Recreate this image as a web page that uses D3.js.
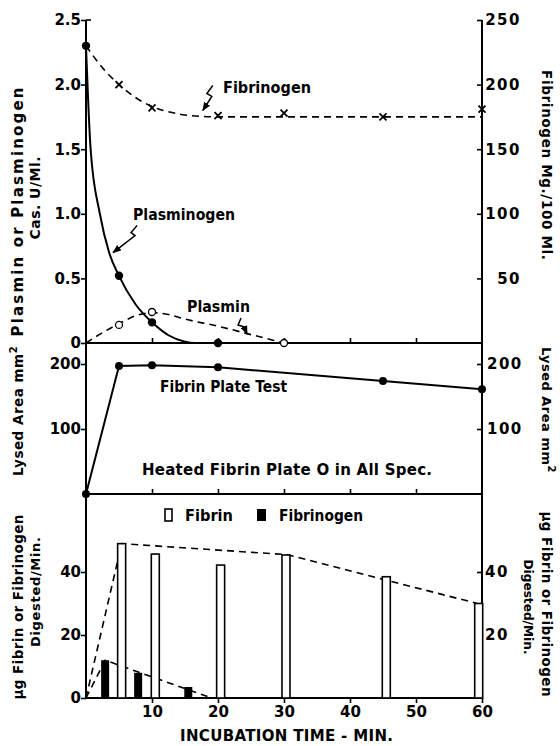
<!DOCTYPE html>
<html>
<head>
<meta charset="utf-8">
<script src="https://cdn.jsdelivr.net/npm/d3@7"></script>
<style>
  body { margin: 0; background: #fff; }
  svg { display: block; font-family: "DejaVu Sans", sans-serif; font-weight: bold; }
</style>
</head>
<body>
<script>
// chart size
const width = 560;
const height = 746;

// top panel: plasminogen and plasmin (Cas. U/ml), fibrinogen (mg/100 ml)
const plasminogenTimes = [0, 5, 10, 20];
const plasminogenValues = [2.3, 0.52, 0.16, 0];
const plasminogenCurveTimes = [0, 0.7, 2.1, 3.5, 5, 7.5, 10, 12.5, 15, 16.5, 20];
const plasminogenCurveValues = [2.3, 1.5, 1.0, 0.7, 0.52, 0.3, 0.16, 0.06, 0.01, 0, 0];

const plasminTimes = [5, 10, 30];
const plasminValues = [0.14, 0.24, 0];
const plasminCurveTimes = [0, 2.5, 5, 7.5, 10, 12.5, 15, 20, 25, 30];
const plasminCurveValues = [0, 0.08, 0.15, 0.21, 0.235, 0.22, 0.185, 0.13, 0.065, 0];

const fibrinogenTimes = [5, 10, 20, 30, 45, 60];
const fibrinogenValues = [200, 182, 176, 178, 175, 181];
const fibrinogenCurveTimes = [0, 2.5, 5, 7.5, 10, 12.5, 15, 20, 60];
const fibrinogenCurveValues = [230, 213, 200, 190, 183, 179, 176.5, 175, 175];

// middle panel: fibrin plate test, lysed area mm2
const plateTimes = [0, 5, 10, 20, 45, 60];
const plateValues = [0, 197, 198, 195, 174, 161];

// bottom panel: ug digested per min
const fibrinBarTimes = [5.4, 10.5, 20.4, 30.3, 45.5, 59.5];
const fibrinBarValues = [49, 45.7, 42.2, 45.4, 38.5, 30];
const fibrinogenBarTimes = [2.9, 7.9, 15.5];
const fibrinogenBarValues = [12, 8, 3.5];
const fibrinEnvTimes = [0, 5.4, 30.5, 59.3];
const fibrinEnvValues = [0, 49, 45.5, 30];
const fibrinogenEnvTimes = [0, 2.9, 19];
const fibrinogenEnvValues = [0, 12, 0];

// tick labels
const xTicks = [10, 20, 30, 40, 50, 60];
const topLeftTicks = [0, 0.5, 1, 1.5, 2, 2.5];
const topRightTicks = [50, 100, 150, 200, 250];
const midTicks = [100, 200];
const botLeftTicks = [0, 20, 40];
const botRightTicks = [20, 40];

const zip = (a, b) => a.map((d, i) => [d, b[i]]);

const svg = d3
  .select("body")
  .append("svg")
  .attr("width", width)
  .attr("height", height);

svg.append("defs")
  .append("marker")
  .attr("id", "head")
  .attr("markerUnits", "userSpaceOnUse")
  .attr("markerWidth", 9)
  .attr("markerHeight", 7)
  .attr("refX", 8)
  .attr("refY", 3.5)
  .attr("orient", "auto")
  .append("path")
  .attr("d", "M0,0L9,3.5L0,7z");

// scales
const x = d3.scaleLinear().domain([0, 60]).range([86, 482]);
const yTop = d3.scaleLinear().domain([0, 2.5]).range([343, 20]);
const yTopRight = d3.scaleLinear().domain([0, 250]).range([343, 20]);
const yMid = d3.scaleLinear().domain([0, 200]).range([494, 364]);
const yBot = d3.scaleLinear().domain([0, 40]).range([698, 572]);

// frame lines
const frame = svg.append("g").attr("stroke", "#000").attr("stroke-width", 2);
[x(0), x(60)].forEach((px) => {
  frame.append("line").attr("x1", px).attr("x2", px).attr("y1", yTop(2.5)).attr("y2", yBot(0));
});
[yTop(0), yMid(0), yBot(0)].forEach((py) => {
  frame.append("line").attr("x1", x(0)).attr("x2", x(60)).attr("y1", py).attr("y2", py);
});

function styleAxis(g) {
  g.select(".domain").remove();
  g.attr("font-family", null).attr("font-size", 15);
  g.selectAll("line").attr("stroke-width", 1.6);
  g.selectAll("text").attr("fill", "#000");
}

// left axes
svg.append("g").attr("transform", `translate(${x(0)},0)`)
  .call(d3.axisLeft(yTop).tickValues(topLeftTicks).tickFormat((d) => (d === 0 ? "0" : d3.format(".1f")(d))).tickSize(5).tickPadding(0))
  .call(styleAxis);
svg.append("g").attr("transform", `translate(${x(0)},0)`)
  .call(d3.axisLeft(yMid).tickValues(midTicks).tickSize(5).tickPadding(0))
  .call(styleAxis);
svg.append("g").attr("transform", `translate(${x(0)},0)`)
  .call(d3.axisLeft(yBot).tickValues(botLeftTicks).tickSize(5).tickPadding(0))
  .call(styleAxis);
// the top tick crosses the axis
svg.append("line").attr("x1", x(0)).attr("x2", x(0) + 5).attr("y1", yTop(2.5)).attr("y2", yTop(2.5))
  .attr("stroke", "#000").attr("stroke-width", 1.6);

// right axes
svg.append("g").attr("transform", `translate(${x(60)},0)`)
  .call(d3.axisRight(yTopRight).tickValues(topRightTicks).tickSize(-5).tickPadding(3))
  .call(styleAxis)
  .selectAll("text").attr("text-anchor", "end").attr("x", 39).attr("letter-spacing", 1.5);
svg.append("g").attr("transform", `translate(${x(60)},0)`)
  .call(d3.axisRight(yMid).tickValues(midTicks).tickSize(-5).tickPadding(5))
  .call(styleAxis)
  .selectAll("text").attr("letter-spacing", 1.5);
svg.append("g").attr("transform", `translate(${x(60)},0)`)
  .call(d3.axisRight(yBot).tickValues(botRightTicks).tickSize(-5).tickPadding(3))
  .call(styleAxis)
  .selectAll("text").attr("letter-spacing", 1.5);

// x axes
[yTop(0), yMid(0)].forEach((py) => {
  svg.append("g").attr("transform", `translate(0,${py})`)
    .call(d3.axisTop(x).tickValues(xTicks.slice(0, 5)).tickFormat("").tickSize(5))
    .call(styleAxis);
});
svg.append("g").attr("transform", `translate(0,${yBot(0)})`)
  .call(d3.axisBottom(x).tickValues(xTicks).tickSize(5).tickPadding(3))
  .call(styleAxis);

// top panel lines
const line = (ys) => d3.line().x((d) => x(d[0])).y((d) => ys(d[1]));

svg.append("path")
  .datum(zip(fibrinogenCurveTimes, fibrinogenCurveValues))
  .attr("fill", "none").attr("stroke", "#000").attr("stroke-width", 1.6).attr("stroke-dasharray", "7,5")
  .attr("d", line(yTopRight).curve(d3.curveMonotoneX));

svg.append("path")
  .datum(zip(plasminCurveTimes, plasminCurveValues))
  .attr("fill", "none").attr("stroke", "#000").attr("stroke-width", 1.6).attr("stroke-dasharray", "7,5")
  .attr("d", line(yTop).curve(d3.curveMonotoneX));

svg.append("path")
  .datum(zip(plasminogenCurveTimes, plasminogenCurveValues))
  .attr("fill", "none").attr("stroke", "#000").attr("stroke-width", 2)
  .attr("d", line(yTop).curve(d3.curveMonotoneX));

svg.append("g")
  .selectAll("path")
  .data(zip(fibrinogenTimes, fibrinogenValues))
  .enter()
  .append("path")
  .attr("transform", (d) => `translate(${x(d[0])},${yTopRight(d[1])})`)
  .attr("d", "M-3.5,-3.5L3.5,3.5M-3.5,3.5L3.5,-3.5")
  .attr("stroke", "#000").attr("stroke-width", 1.8);

svg.append("g")
  .selectAll("circle")
  .data(zip(plasminTimes, plasminValues))
  .enter()
  .append("circle")
  .attr("cx", (d) => x(d[0])).attr("cy", (d) => yTop(d[1])).attr("r", 3.5)
  .attr("fill", "#fff").attr("stroke", "#000").attr("stroke-width", 1.3);

svg.append("g")
  .selectAll("circle")
  .data(zip(plasminogenTimes, plasminogenValues))
  .enter()
  .append("circle")
  .attr("cx", (d) => x(d[0])).attr("cy", (d) => yTop(d[1])).attr("r", 4.2);

// middle panel
svg.append("path")
  .datum(zip(plateTimes, plateValues))
  .attr("fill", "none").attr("stroke", "#000").attr("stroke-width", 2)
  .attr("d", line(yMid));

svg.append("g")
  .selectAll("circle")
  .data(zip(plateTimes, plateValues))
  .enter()
  .append("circle")
  .attr("cx", (d) => x(d[0])).attr("cy", (d) => yMid(d[1])).attr("r", 4);

// bottom panel
[[fibrinEnvTimes, fibrinEnvValues], [fibrinogenEnvTimes, fibrinogenEnvValues]].forEach(([t, v]) => {
  svg.append("path")
    .datum(zip(t, v))
    .attr("fill", "none").attr("stroke", "#000").attr("stroke-width", 1.6).attr("stroke-dasharray", "7,5")
    .attr("d", line(yBot));
});

const barW = 8;
svg.append("g")
  .selectAll("rect")
  .data(zip(fibrinBarTimes, fibrinBarValues))
  .enter()
  .append("rect")
  .attr("x", (d) => x(d[0]) - barW / 2)
  .attr("y", (d) => yBot(d[1]))
  .attr("width", barW)
  .attr("height", (d) => yBot(0) - yBot(d[1]))
  .attr("fill", "#fff").attr("stroke", "#000").attr("stroke-width", 1.6);

svg.append("g")
  .selectAll("rect")
  .data(zip(fibrinogenBarTimes, fibrinogenBarValues))
  .enter()
  .append("rect")
  .attr("x", (d) => x(d[0]) - barW / 2)
  .attr("y", (d) => yBot(d[1]))
  .attr("width", barW)
  .attr("height", (d) => yBot(0) - yBot(d[1]));

// fit a text to a given length: stretch by spacing, squeeze glyphs only if too long
function fit(t, len) {
  const natural = t.node().getComputedTextLength();
  t.attr("textLength", len).attr("lengthAdjust", natural < len ? "spacing" : "spacingAndGlyphs");
  return t;
}

function label(text, px, py, len, size = 15) {
  const t = svg.append("text")
    .attr("x", px).attr("y", py)
    .attr("font-size", size)
    .text(text);
  return fit(t, len);
}

function vLabel(text, cx, cy, len, rot, size = 15, sup) {
  const t = svg.append("text")
    .attr("transform", `translate(${cx},${cy}) rotate(${rot})`)
    .attr("text-anchor", "middle")
    .attr("dy", "0.36em")
    .attr("font-size", size)
    .text(text);
  if (sup) {
    // superscript: keep the natural length
    t.attr("letter-spacing", 0.5);
    t.append("tspan").attr("font-size", 10).attr("dy", "-0.6em").text(sup);
    return t;
  }
  return fit(t, len);
}

label("Fibrinogen", 223, 93, 88);
label("Plasminogen", 133, 220, 102);
label("Plasmin", 187, 312, 63);
label("Fibrin Plate Test", 160, 392, 127);
label("Heated Fibrin Plate O in All Spec.", 142, 475, 290);
label("Fibrin", 185, 521, 48);
label("Fibrinogen", 279, 521, 84);
label("INCUBATION TIME - MIN.", 180, 741, 213);

svg.append("rect").attr("x", 165).attr("y", 509).attr("width", 7).attr("height", 12)
  .attr("fill", "#fff").attr("stroke", "#000").attr("stroke-width", 1.6);
svg.append("rect").attr("x", 257).attr("y", 509).attr("width", 9).attr("height", 12);

// squiggle arrows, offsets from the tip
const arrows = [
  { t: 17.7, v: 1.8, pts: [[10, -25], [4, -17], [9, -14], [0, 0]] },
  { t: 4.1, v: 0.7, pts: [[24, -27], [18, -20], [22, -17], [0, 0]] },
  { t: 24.4, v: 0.07, pts: [[-6, -16], [-9, -9], [-3, -7], [0, 0]] },
];
arrows.forEach((a) => {
  const tx = x(a.t), ty = yTop(a.v);
  svg.append("path")
    .attr("d", d3.line()(a.pts.map((p) => [tx + p[0], ty + p[1]])))
    .attr("fill", "none").attr("stroke", "#000").attr("stroke-width", 1.5)
    .attr("marker-end", "url(#head)");
});

// axis titles
vLabel("Plasmin or Plasminogen", 18, 212, 249, -90, 15);
vLabel("Cas. U/Ml.", 35, 198, 83, -90, 14);
vLabel("Lysed Area mm", 18, 411, 122, -90, 13.5, "2");
vLabel("\u03bcg Fibrin or Fibrinogen", 18, 607, 185, -90, 13.5);
vLabel("Digested/Min.", 35, 592, 110, -90, 13);
vLabel("Fibrinogen  Mg./100 Ml.", 547, 165, 190, 90, 13.5);
vLabel("Lysed Area mm", 547, 410, 115, 90, 13, "2");
vLabel("\u03bcg Fibrin or Fibrinogen", 547, 604, 185, 90, 13.5);
vLabel("Digested/Min.", 528, 607, 95, 90, 12.5);
</script>
</body>
</html>
